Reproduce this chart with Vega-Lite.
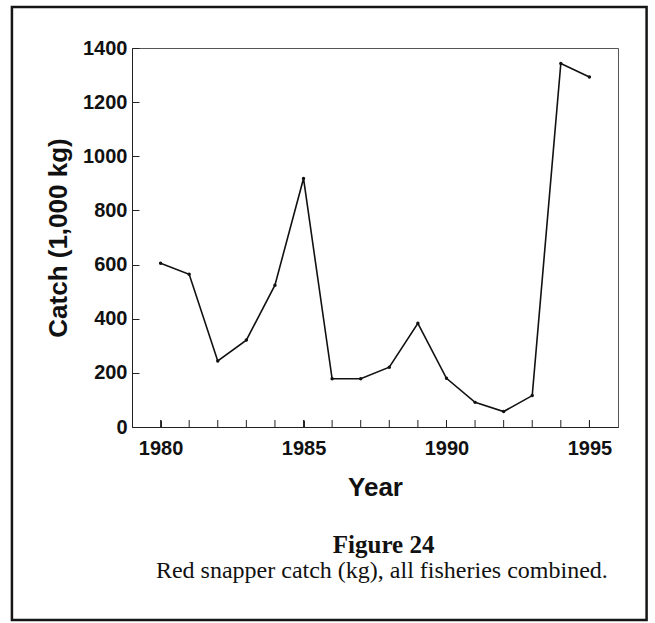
{
  "$schema": "https://vega.github.io/schema/vega-lite/v6.json",
  "width": 486,
  "height": 379,
  "autosize": {"type": "none"},
  "padding": {"left": 132, "top": 48, "right": 37, "bottom": 196},
  "background": "white",
  "config": {
    "view": {"stroke": "#555555", "strokeWidth": 1},
    "axis": {"labelFont": "Liberation Sans", "titleFont": "Liberation Sans", "labelColor": "#111", "titleColor": "#111", "domainColor": "#222", "tickColor": "#222", "grid": false}
  },
  "data": {
    "values": [
      {"year": 1980, "catch": 605},
      {"year": 1981, "catch": 564},
      {"year": 1982, "catch": 244},
      {"year": 1983, "catch": 321},
      {"year": 1984, "catch": 524},
      {"year": 1985, "catch": 918},
      {"year": 1986, "catch": 178},
      {"year": 1987, "catch": 178},
      {"year": 1988, "catch": 221},
      {"year": 1989, "catch": 383},
      {"year": 1990, "catch": 180},
      {"year": 1991, "catch": 91},
      {"year": 1992, "catch": 57},
      {"year": 1993, "catch": 116},
      {"year": 1994, "catch": 1343},
      {"year": 1995, "catch": 1293}
    ]
  },
  "layer": [
    {
      "mark": {"type": "rule", "color": "#222", "strokeWidth": 1},
      "encoding": {
        "x": {"field": "year", "type": "quantitative"},
        "y": {"datum": 0},
        "y2": {"datum": 26}
      }
    },
    {
      "mark": {"type": "line", "color": "#111", "strokeWidth": 1.6},
      "encoding": {
        "x": {
          "field": "year", "type": "quantitative",
          "scale": {"domain": [1979, 1996], "nice": false, "zero": false},
          "axis": {
            "title": "Year", "titleFontSize": 26, "titleFontWeight": "bold", "titlePadding": 16,
            "values": [1980, 1985, 1990, 1995],
            "format": "d",
            "labelOverlap": false,
            "labelFontSize": 20, "labelFontWeight": "bold", "tickSize": -7, "labelPadding": 18, "labelFlush": false
          }
        },
        "y": {
          "field": "catch", "type": "quantitative",
          "scale": {"domain": [0, 1400], "nice": false},
          "axis": {
            "title": "Catch (1,000 kg)", "titleFontSize": 26, "titleFontWeight": "bold", "titlePadding": 11,
            "values": [0,200,400,600,800,1000,1200,1400],
            "format": "d",
            "labelOverlap": false,
            "labelFontSize": 20, "labelFontWeight": "bold", "tickSize": -7, "labelPadding": 12, "labelFlush": false
          }
        }
      }
    },
    {
      "mark": {"type": "point", "filled": true, "color": "#111", "size": 12, "opacity": 1},
      "encoding": {
        "x": {"field": "year", "type": "quantitative"},
        "y": {"field": "catch", "type": "quantitative"}
      }
    },
    {
      "data": {"values": [{}]},
      "mark": {"type": "rect", "fill": null, "stroke": "#151515", "strokeWidth": 2.5, "clip": false},
      "encoding": {
        "x": {"datum": 1974.8},
        "x2": {"datum": 1997.0},
        "y": {"datum": 1551},
        "y2": {"datum": -713}
      }
    },
    {
      "data": {"values": [{}]},
      "mark": {"type": "text", "text": "Figure 24", "font": "Liberation Serif", "fontSize": 25, "fontWeight": "bold", "color": "#111", "align": "center", "baseline": "middle", "clip": false},
      "encoding": {
        "x": {"datum": 1987.8},
        "y": {"datum": -436}
      }
    },
    {
      "data": {"values": [{}]},
      "mark": {"type": "text", "text": "Red snapper catch (kg), all fisheries combined.", "font": "Liberation Serif", "fontSize": 24, "color": "#111", "align": "center", "baseline": "middle", "clip": false},
      "encoding": {
        "x": {"datum": 1987.74},
        "y": {"datum": -532}
      }
    }
  ]
}
